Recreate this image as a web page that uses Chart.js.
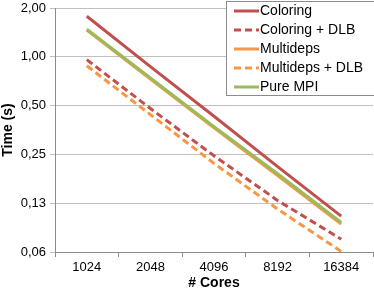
<!DOCTYPE html>
<html>
<head>
<meta charset="utf-8">
<script src="https://cdn.jsdelivr.net/npm/chart.js@4"></script>
<style>
  html, body { margin: 0; padding: 0; background: #fff; }
</style>
</head>
<body>
<canvas id="myChart" width="374" height="289"></canvas>
<script>
// data
var cores = ['1024', '2048', '4096', '8192', '16384'];
var coloring = [1.78, 0.87, 0.43, 0.21, 0.104];
var coloringDLB = [0.96, 0.48, 0.245, 0.13, 0.075];
var multideps = [1.46, 0.73, 0.365, 0.185, 0.093];
var multidepsDLB = [0.88, 0.44, 0.22, 0.115, 0.063];
var pureMPI = [1.48, 0.74, 0.37, 0.19, 0.095];
var yTickValues = [0.0625, 0.125, 0.25, 0.5, 1, 2];
var yTickLabels = ['0,06', '0,13', '0,25', '0,50', '1,00', '2,00'];

var RED = '#C0504D', ORANGE = '#F79646', GREEN = '#9BBB59';
var FONT = "'Liberation Sans', Arial, sans-serif";

// legend drawn inside the plot, like the original
var legendBox = {
  id: 'legendBox',
  afterDraw: function (chart) {
    var ctx = chart.ctx;
    var x = 226, y = 1, w = 150, h = 94;
    ctx.save();
    ctx.fillStyle = '#fff';
    ctx.fillRect(x, y, w, h);
    ctx.strokeStyle = '#8c8c8c';
    ctx.lineWidth = 1;
    ctx.strokeRect(x + 0.5, y + 0.5, w, h);
    ctx.font = '14px ' + FONT;
    ctx.textBaseline = 'middle';
    chart.data.datasets.forEach(function (ds, i) {
      var ly = 11 + i * 19;
      ctx.strokeStyle = ds.borderColor;
      ctx.lineWidth = 3;
      ctx.setLineDash(ds.borderDash || []);
      ctx.beginPath();
      ctx.moveTo(234, ly);
      ctx.lineTo(259, ly);
      ctx.stroke();
      ctx.setLineDash([]);
      ctx.fillStyle = '#000';
      ctx.fillText(ds.label, 260, ly);
    });
    ctx.restore();
  }
};

var ctx = document.getElementById('myChart').getContext('2d');
var myChart = new Chart(ctx, {
  type: 'line',
  data: {
    labels: cores,
    datasets: [
      { label: 'Coloring', data: coloring, borderColor: RED, order: 1 },
      { label: 'Coloring + DLB', data: coloringDLB, borderColor: RED, borderDash: [7, 4], order: 1 },
      { label: 'Multideps', data: multideps, borderColor: ORANGE, order: 2 },
      { label: 'Multideps + DLB', data: multidepsDLB, borderColor: ORANGE, borderDash: [7, 4], order: 1 },
      { label: 'Pure MPI', data: pureMPI, borderColor: GREEN, order: 0 }
    ]
  },
  options: {
    responsive: false,
    animation: false,
    devicePixelRatio: 1,
    layout: { padding: { top: 8, right: 1, left: 0, bottom: -3 } },
    elements: {
      line: { borderWidth: 3, tension: 0, borderCapStyle: 'butt' },
      point: { radius: 0 }
    },
    plugins: {
      legend: { display: false },
      tooltip: { enabled: false }
    },
    scales: {
      x: {
        offset: true,
        grid: { offset: true, drawOnChartArea: false, tickLength: 5, color: '#8c8c8c' },
        border: { color: '#8c8c8c' },
        ticks: { color: '#000', font: { family: FONT, size: 13 }, padding: 3, maxRotation: 0 },
        title: { display: true, text: '# Cores', color: '#000', font: { family: FONT, size: 14, weight: 'bold' }, padding: 0 },
        afterFit: function (scale) {
          scale.height = 40;
          scale.paddingLeft = 0;
          scale.paddingRight = 0;
        }
      },
      y: {
        type: 'logarithmic',
        min: 0.0625,
        max: 2,
        afterBuildTicks: function (scale) {
          scale.ticks = yTickValues.map(function (v) { return { value: v }; });
        },
        grid: { color: '#bfbfbf', tickLength: 5 },
        border: { color: '#8c8c8c' },
        ticks: {
          color: '#000',
          font: { family: FONT, size: 13 },
          padding: 4,
          callback: function (v) {
            var i = yTickValues.indexOf(v);
            return i >= 0 ? yTickLabels[i] : '';
          }
        },
        title: { display: true, text: 'Time (s)', color: '#000', font: { family: FONT, size: 14, weight: 'bold' }, padding: 0 },
        afterFit: function (scale) {
          scale.width = 55;
          scale.paddingTop = 0;
          scale.paddingBottom = 0;
        }
      }
    }
  },
  plugins: [legendBox]
});
</script>
</body>
</html>
